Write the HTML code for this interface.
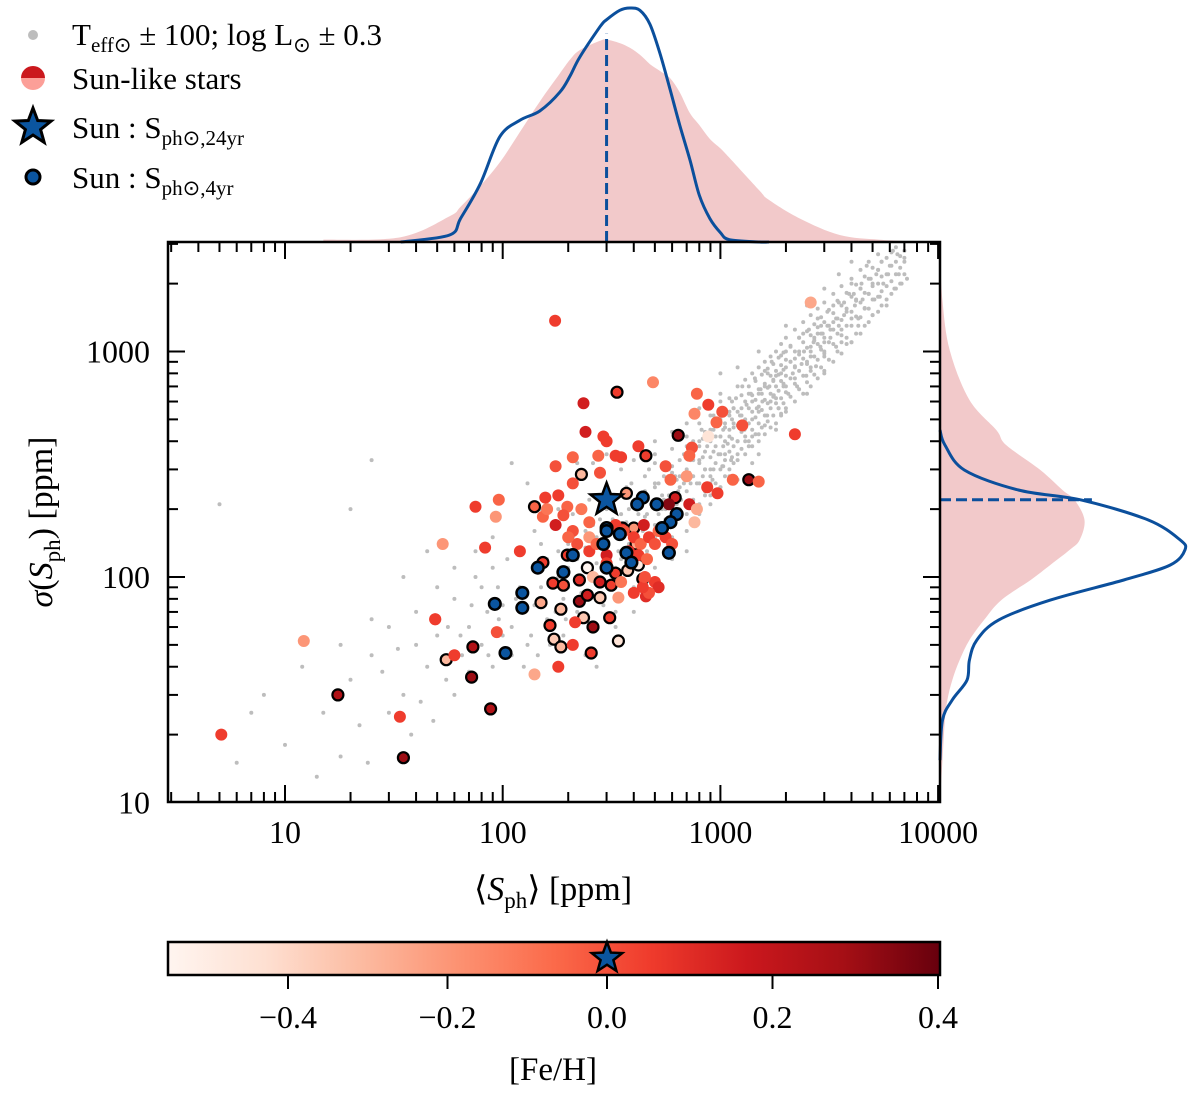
<!DOCTYPE html>
<html><head><meta charset="utf-8"><style>
html,body{margin:0;padding:0;background:#fff;}
svg{display:block;font-family:"Liberation Serif",serif;}
</style></head><body>
<svg id="chart" width="1200" height="1099" viewBox="0 0 1200 1099" xmlns="http://www.w3.org/2000/svg">
<defs>
<clipPath id="clipMain"><rect x="168" y="242" width="772" height="560"/></clipPath>
<linearGradient id="redsGrad" x1="0" x2="1" y1="0" y2="0">
<stop offset="0" stop-color="#fff5f0"/><stop offset="0.125" stop-color="#fee0d2"/><stop offset="0.25" stop-color="#fcbba1"/><stop offset="0.375" stop-color="#fc9272"/><stop offset="0.5" stop-color="#fb6a4a"/><stop offset="0.625" stop-color="#ef3b2c"/><stop offset="0.75" stop-color="#cb181d"/><stop offset="0.875" stop-color="#a50f15"/><stop offset="1" stop-color="#67000d"/>
</linearGradient>
</defs>
<g id="topMarg"></g>
<g id="rightMarg"></g>
<g id="grayPts" clip-path="url(#clipMain)"></g>
<g id="colPts" clip-path="url(#clipMain)"></g>
<g id="axes"></g>
<g id="cbar"></g>
<g id="legend">
<circle cx="33" cy="35" r="5" fill="#bdbdbd"/>
<text x="72" y="45" font-size="31">T<tspan font-size="21" dy="7">eff⊙</tspan><tspan dy="-7"> ± 100; log L</tspan><tspan font-size="21" dy="7">⊙</tspan><tspan dy="-7"> ± 0.3</tspan></text>
<path d="M21,78 A12,12 0 0 1 45,78 Z" fill="#cb181d"/>
<path d="M21,78 A12,12 0 0 0 45,78 Z" fill="#fc9f98"/>
<text x="72" y="89" font-size="31">Sun-like stars</text>
<g id="legStar"></g>
<text x="72" y="138" font-size="31">Sun :  S<tspan font-size="21" dy="7">ph⊙,24yr</tspan></text>
<circle cx="33" cy="177" r="7" fill="#0b559f" stroke="#000" stroke-width="3"/>
<text x="72" y="188" font-size="31">Sun :  S<tspan font-size="21" dy="7">ph⊙,4yr</tspan></text>
</g>
</svg>
<script>
// ---------- data ----------
const grayX=[520,560,600,640,680,700,720,750,780,800,820,850,870,900,920,950,980,1000,1020,1050,1080,1100,1120,1150,1180,1200,1230,1260,1290,1320,1350,1380,1400,1440,1470,1500,1530,1560,1600,1640,1680,1720,1760,1800,1850,1900,1950,2000,2050,2100,2150,2200,2250,2300,2360,2420,2480,2550,2600,2680,2750,2800,2880,2950,3000,3100,3200,3300,3400,3500,3600,3700,3800,3900,4000,4150,4300,4450,4600,4800,5000,5200,5400,5600,5800,6000,6300,6600,7000,7200,
900,1100,1300,1700,2000,2500,3000,3500,4200,5000,1500,1900,2300,2700,3200,3800,4500,6500,5500,800,1000,1250,1600,2100,2600,3100,3700,4400,5300,6200,950,1150,1400,1750,2200,2800,3400,4100,4900,5900,700,850,1050,1350,1650,2000,2400,2900,3300,4000,4700,600,650,750,900,1200,1500,1800,2200,2600,3000,3600,4300,5100,6800,
110,120,130,140,150,160,170,180,190,200,210,220,230,240,250,260,270,280,290,300,310,320,330,340,350,360,370,380,390,400,420,440,450,460,480,500,520,540,560,580,600,620,650,680,
120,150,180,200,220,250,270,300,320,350,380,400,430,460,500,540,580,620,660,200,240,280,330,370,420,470,520,160,190,230,260,290,330,150,210,250,300,400,450,140,180,260,350,
8,12,15,18,20,25,22,30,35,40,45,50,55,60,65,70,75,80,85,90,95,100,105,110,60,70,80,90,100,50,40,30,25,35,45,20,6,5,7,10,14,18,24,28,33,38,42,48,56,64,72,86,96,115,125,135,145,165,175,195,25,110,130,90,75,60,150,170,330,400,500,600,700,800,900,1000,1200,1400,1500,1800,800,700,600,500,1000,1200,1500,2000,2500,3000,3500,4000,4000,3000,2500,2000,1600,1400,1100,900,400,500,300,220,350,270,240,700,850,1300,1900];
const grayY=[260,200,310,240,350,210,290,400,260,330,450,300,380,520,270,420,350,600,310,460,390,540,330,480,620,400,520,700,450,580,380,650,500,760,560,430,680,600,820,520,700,900,640,780,560,960,720,850,650,1050,800,930,700,1150,880,1000,780,1250,950,1100,860,1400,1050,1200,950,1500,1150,1350,1050,1650,1250,1450,1150,1800,1400,1600,1300,2000,1550,1800,1450,2200,1750,2000,1600,2400,1900,2200,2600,2100,
300,450,480,600,700,900,1100,1300,1700,2000,650,800,1000,1150,1250,1500,1700,2700,2500,400,420,560,700,900,1050,1300,1650,1900,2300,2800,500,560,600,750,850,1200,1400,1800,2100,2200,380,420,350,650,800,1000,1200,1300,1600,2000,2400,370,280,330,450,350,540,620,760,820,1000,1100,1400,1700,2000,
60,90,50,75,110,65,95,130,80,110,150,70,100,135,85,170,115,95,140,200,120,90,160,130,230,105,175,140,260,120,190,160,280,130,210,170,140,230,180,300,150,210,190,260,
70,90,100,140,120,110,150,130,180,150,200,170,220,190,250,200,230,280,220,90,160,180,110,250,150,300,190,120,55,85,60,75,70,140,190,220,240,330,350,160,200,320,300,
30,40,25,50,35,45,22,60,30,70,40,55,35,80,45,60,100,50,70,40,90,55,120,45,30,38,90,110,75,90,50,25,65,100,130,200,15,210,25,18,13,16,15,38,48,20,28,23,60,55,75,45,65,80,40,55,45,50,70,65,330,320,260,150,130,110,200,170,60,90,110,120,160,190,210,250,270,320,350,450,560,480,440,400,800,850,1000,1300,1600,1900,2200,2500,1100,800,650,560,470,420,280,260,70,350,350,320,50,40,45,130,230,400,530];

// dense gray band: each column x with its list of y values
const denseX=[350,400,450,500,550,600,650,700,750,800,850,900,950,1000,1050,1100,1150,1200,1300,1400,1500,1600,1700,1800,1900,2000,2200,2400,2600,2800,3000,3300,3600,4000,4400,4800,5300,5800,6400,7000,
630,730,830,930,1030,1130,1250,1350,1450,1550,1650,1750,1850,1950,2100,2300,2500,2700,2900,3150,3450,3800,4200,4600,5000,5500,6100,6700];
const denseY=[[120,150,190],[130,170,210],[140,185,240],[150,200,260,320],[170,220,280],[180,230,290],[200,250,330],[190,240,300,420],[220,280,350],[210,260,320,380,480],[240,300,360,440],[230,280,340,400,560],[260,320,380,470],[250,300,350,420,500,650],[280,330,400,480],[300,360,420,520,620],[320,380,460,560],[330,400,470,540,700],[350,420,500,600,750],[380,450,540,640,800],[400,480,570,680,850],[430,520,610,720,900],[460,560,650,780,950],[480,590,700,820,1000],[520,620,740,870,1080],[540,660,780,920,1150],[600,720,860,1000,1250],[650,780,930,1100,1350],[700,850,1000,1180,1450],[760,920,1080,1280,1550],[820,980,1150,1350,1650],[900,1080,1250,1480,1800],[980,1180,1380,1600,1950],[1100,1300,1500,1750,2100],[1200,1420,1650,1900,2300],[1350,1550,1800,2100,2500],[1500,1750,2000,2300,2700],[1700,1950,2200,2600],[1900,2200,2500,2900],[2200,2500,2800],
[210,270],[260,330,390],[280,340,410],[300,360,450,520],[310,380,450,560],[340,410,500,600],[370,440,520,640],[400,480,560,700],[430,510,610,740],[460,550,650,790],[490,590,690,840],[520,630,740,880],[560,670,790,940],[590,700,830,990],[630,760,900,1060],[680,820,970,1150],[730,880,1040,1230],[790,950,1120,1320],[850,1020,1200,1420],[920,1100,1300,1530],[1000,1200,1400,1680],[1080,1300,1550,1820],[1200,1430,1680,1980],[1300,1560,1820,2150],[1450,1700,1950,2350],[1600,1850,2150,2500],[1800,2050,2400,2750],[2000,2350,2650]];

// sun-like stars
const starX=[5.1,12.2,17.5,33.7,35,48.9,335,490,780,880,1020,760,960,1260,240,640,880,300,420,455,740,720,330,275,210,350,560,175,230,700,590,1140,970,870,370,620,580,720,780,760,75,96,93,140,157,198,153,175,190,250,355,400,445,210,250,300,410,198,153,245,420,260,330,375,170,190,225,280,315,440,150,225,245,280,340,455,185,165,235,260,310,215,49,73,55,172,185,255,340,210,180,72,140,53,83,120,174,2600,2200,1350,1500,88,60,94,235,290,280,
330,360,400,430,470,500,520,560,600,380,420,460,500,520,470,440,250,270,220,200,300,350,400,450,160,180,210,230];
const starY=[20,52,30,24,15.8,65,660,730,650,580,540,530,485,470,440,425,420,400,380,345,375,345,345,345,340,340,310,310,285,280,270,270,235,250,235,225,210,210,200,175,205,220,185,205,225,205,185,170,188,175,165,165,170,160,150,125,140,125,116,110,113,100,104,107,94,92,97,95,92,98,77,78,83,81,81,82,72,61,66,60,66,63,65,49,43,53,49,46,52,50,40,36,37,140,135,130,1370,1650,430,270,265,26,45,57,590,420,290,
170,160,150,140,150,140,160,150,140,130,125,120,95,90,85,90,130,140,140,150,115,95,85,100,200,230,260,200];
const starFeh=[0.05,-0.2,0.25,0.05,0.3,0,0.05,-0.15,-0.05,0.05,0,-0.15,-0.05,0,0.15,0.3,-0.45,0.05,0.05,0.05,0,-0.05,0.05,-0.05,-0.05,0.05,0,0,-0.3,-0.2,-0.05,-0.05,0.05,0.05,-0.2,0.15,0.35,0.15,-0.25,-0.3,0.05,-0.05,-0.2,-0.05,0.05,-0.05,-0.05,0.15,0,-0.05,0.1,-0.2,0.15,0,-0.2,0.15,-0.25,0.05,0.05,-0.55,-0.5,-0.3,0.05,-0.35,0.05,0,0.1,0.15,0.05,0,-0.25,0.3,0.15,-0.35,-0.2,0.1,-0.3,0.05,-0.35,0.3,0.05,0.05,0.05,0.25,-0.3,-0.35,-0.3,0.05,-0.45,0.05,0.05,0.3,-0.25,-0.2,0.05,0.05,0.05,-0.25,0.05,0.3,-0.05,0.25,0.05,0,0.15,0.05,0,
0.05,0,0.05,-0.05,0.05,0,-0.05,0.05,0,0.1,0.05,-0.05,0.05,0.1,0,0.05,0.05,-0.05,0,-0.05,0.05,-0.1,0.05,0,-0.1,0.05,0,-0.1];
const starEdge=[0,0,1,0,1,0,1,0,0,0,0,0,0,0,0,1,0,0,0,1,0,0,0,0,0,0,0,0,1,0,0,0,0,0,1,1,0,0,0,0,0,0,0,1,0,0,0,0,0,0,1,1,0,0,0,0,1,1,1,1,1,0,1,1,1,1,1,1,1,1,1,1,1,1,0,0,1,1,1,1,1,0,0,1,1,1,1,1,1,0,0,1,0,0,0,0,0,0,0,1,0,1,0,0,0,0,0,
0,0,0,0,0,0,0,0,0,0,0,0,0,0,0,0,0,0,0,0,0,0,0,0,0,0,0,0];

const sunX=[440,415,510,630,590,540,300,300,345,290,370,390,580,210,145,190,300,123,92,123,103];
const sunY=[225,210,210,190,175,165,165,160,155,140,128,116,128,125,110,105,110,85,76,73,46];
const sun24X=300, sun24Y=220, sunFeh=0;

const topXs=[15,34,57,64,79,97,120,148,183,204,226,280,300,345,384,427,475,530,588,650,725,800,895,1000,1100,1510,1670,2320,3530,5400,9000];
const topPink=[0.01,0.02,0.11,0.15,0.24,0.34,0.47,0.6,0.72,0.78,0.82,0.86,0.865,0.85,0.83,0.8,0.76,0.73,0.7,0.64,0.55,0.5,0.44,0.4,0.36,0.22,0.18,0.1,0.03,0.01,0];
const topBlue=[0,0,0.03,0.1,0.25,0.45,0.52,0.56,0.64,0.71,0.79,0.92,0.95,0.99,1.0,0.99,0.93,0.8,0.65,0.5,0.35,0.2,0.1,0.04,0.01,0,0,0,0,0,0];
const rightYs=[10,15.4,23.2,28.5,34.9,42.8,52.5,64.5,79,97,113,132,146,179,219,243,298,385,448,610,1010,1680,2800];
const rightPink=[0,0.01,0.02,0.03,0.05,0.08,0.12,0.18,0.25,0.37,0.45,0.53,0.57,0.59,0.55,0.5,0.41,0.27,0.23,0.12,0.04,0.01,0];
const rightBlue=[0,0,0.01,0.05,0.11,0.12,0.15,0.24,0.45,0.75,0.94,1.0,0.98,0.85,0.58,0.32,0.1,0.02,0,0,0,0,0];

const xTicks=[10,100,1000,10000];
const xTickLabels=["10","100","1000","10000"];
const yTicks=[10,100,1000];
const yTickLabels=["10","100","1000"];
const cbTicks=[-0.4,-0.2,0,0.2,0.4];
const cbTickLabels=["\u22120.4","\u22120.2","0.0","0.2","0.4"];

// ---------- scales ----------
const NS="http://www.w3.org/2000/svg";
const L=168,R=940,T=242,B=802;
function xs(v){return 285+(Math.log10(v)-1)*217.7;}
function ys(v){return 577-(Math.log10(v)-2)*225.5;}
function cbx(f){return f<0?607+f/0.4*319:607+f/0.4*331;}
const reds=["#fff5f0","#fee0d2","#fcbba1","#fc9272","#fb6a4a","#ef3b2c","#cb181d","#a50f15","#67000d"];
function hex(c){return [1,3,5].map(i=>parseInt(c.substr(i,2),16));}
function fehColor(f){let t=(cbx(f)-L)/(R-L);t=Math.max(0,Math.min(1,t));const p=t*8,i=Math.min(7,Math.floor(p)),u=p-i;const a=hex(reds[i]),b=hex(reds[i+1]);return "rgb("+a.map((v,k)=>Math.round(v+(b[k]-v)*u)).join(",")+")";}
function mk(tag,attrs,parent){const e=document.createElementNS(NS,tag);for(const k in attrs)e.setAttribute(k,attrs[k]);parent.appendChild(e);return e;}
function starPath(cx,cy,r){let d="";for(let i=0;i<10;i++){const rr=i%2?r*0.42:r;const a=-Math.PI/2+i*Math.PI/5;d+=(i?"L":"M")+(cx+rr*Math.cos(a)).toFixed(1)+","+(cy+rr*Math.sin(a)).toFixed(1);}return d+"Z";}
function smooth(pts){let d="M"+pts[0][0]+","+pts[0][1];for(let i=0;i<pts.length-1;i++){const p0=pts[Math.max(0,i-1)],p1=pts[i],p2=pts[i+1],p3=pts[Math.min(pts.length-1,i+2)];const c1=[p1[0]+(p2[0]-p0[0])/6,p1[1]+(p2[1]-p0[1])/6],c2=[p2[0]-(p3[0]-p1[0])/6,p2[1]-(p3[1]-p1[1])/6];d+="C"+c1[0].toFixed(1)+","+c1[1].toFixed(1)+" "+c2[0].toFixed(1)+","+c2[1].toFixed(1)+" "+p2[0].toFixed(1)+","+p2[1].toFixed(1);}return d;}
function tspanText(parent,attrs,parts){const t=mk("text",attrs,parent);parts.forEach(p=>{const s=mk("tspan",p.a||{},t);s.textContent=p.t;});return t;}

// ---------- marginals ----------
const tm=document.getElementById("topMarg");
const TH=234;
let tp=topXs.map((x,i)=>[xs(x),T-topPink[i]*TH]);
let e=mk("path",{d:smooth(tp)+"L"+xs(topXs[topXs.length-1])+","+T+"L"+xs(topXs[0])+","+T+"Z",fill:"#f2c9ca"},tm);


let tb=topXs.map((x,i)=>[xs(x),T-topBlue[i]*TH]);
e=mk("path",{d:smooth(tb.slice(1,27)),fill:"none",stroke:"#0b4f9c","stroke-width":3},tm);


e=mk("line",{x1:xs(sun24X),x2:xs(sun24X),y1:T,y2:T-0.89*TH,stroke:"#0b4f9c","stroke-width":3,"stroke-dasharray":"11,5"},tm);



const rm=document.getElementById("rightMarg");
const RW=245;
let rp=rightYs.map((y,i)=>[R+rightPink[i]*RW,ys(y)]);
e=mk("path",{d:smooth(rp)+"L"+R+","+ys(rightYs[rightYs.length-1])+"L"+R+","+ys(rightYs[0])+"Z",fill:"#f2c9ca"},rm);


let rb=rightYs.map((y,i)=>[R+rightBlue[i]*RW,ys(y)]);
e=mk("path",{d:smooth(rb.slice(1,19)),fill:"none",stroke:"#0b4f9c","stroke-width":3},rm);


e=mk("line",{x1:R,x2:R+0.62*RW,y1:ys(sun24Y),y2:ys(sun24Y),stroke:"#0b4f9c","stroke-width":3,"stroke-dasharray":"11,5"},rm);



// ---------- points ----------
const gp=document.getElementById("grayPts");
for(let i=0;i<grayX.length;i++){
 const c=mk("circle",{cx:xs(grayX[i]).toFixed(1),cy:ys(grayY[i]).toFixed(1),r:2,fill:"#bdbdbd"},gp);
 
 
}
for(let i=0;i<denseX.length;i++){
 for(let j=0;j<denseY[i].length;j++){
  const c=mk("circle",{cx:xs(denseX[i]).toFixed(1),cy:ys(denseY[i][j]).toFixed(1),r:2,fill:"#bdbdbd"},gp);
  
  
 }
}
const cp=document.getElementById("colPts");
for(let i=0;i<starX.length;i++){
 const c=mk("circle",{cx:xs(starX[i]).toFixed(1),cy:ys(starY[i]).toFixed(1),r:starEdge[i]?5.5:6,fill:fehColor(starFeh[i]),stroke:starEdge[i]?"#000":"none","stroke-width":2.2},cp);
 
 
}
for(let i=0;i<sunX.length;i++){
 const c=mk("circle",{cx:xs(sunX[i]).toFixed(1),cy:ys(sunY[i]).toFixed(1),r:5.8,fill:"#0b559f",stroke:"#000","stroke-width":2.5},cp);
 
 
}
e=mk("path",{d:starPath(xs(sun24X),ys(sun24Y),17),fill:"#0b559f",stroke:"#000","stroke-width":2.5},cp);



// ---------- axes ----------
const ax=document.getElementById("axes");
function tick(x1,y1,x2,y2,nm){const t=mk("line",{x1:x1,y1:y1,x2:x2,y2:y2,stroke:"#000","stroke-width":2},ax);}
for(let d=0;d<=4;d++){for(let m=1;m<10;m++){const v=m*Math.pow(10,d);const px=xs(v);if(px<L+1||px>R-1)continue;const len=m===1?17:10;tick(px,B,px,B-len,'x-tick');tick(px,T,px,T+len,'x-tick-top');}}
for(let d=1;d<=3;d++){for(let m=1;m<10;m++){const v=m*Math.pow(10,d);const py=ys(v);if(py<T+1||py>B-1)continue;const len=m===1?17:10;tick(L,py,L+len,py,'y-tick');tick(R,py,R-len,py,'y-tick-right');}}
e=mk("rect",{x:L,y:T,width:R-L,height:B-T,fill:"none",stroke:"#000","stroke-width":2.5},ax);


xTicks.forEach((v,i)=>{const t=mk("text",{x:xs(v),y:843,"font-size":32,"text-anchor":"middle"},ax);t.textContent=xTickLabels[i];});
yTicks.forEach((v,i)=>{const t=mk("text",{x:150,y:ys(v)+11,"font-size":32,"text-anchor":"end"},ax);t.textContent=yTickLabels[i];});
e=tspanText(ax,{x:553,y:900,"font-size":34,"text-anchor":"middle"},[{t:"⟨"},{t:"S",a:{"font-style":"italic"}},{t:"ph",a:{"font-size":23,dy:8}},{t:"⟩ [ppm]",a:{dy:-8}}]);


e=tspanText(ax,{x:0,y:0,"font-size":34,"text-anchor":"middle",transform:"translate(52,522) rotate(-90)"},[{t:"σ",a:{"font-style":"italic"}},{t:"("},{t:"S",a:{"font-style":"italic"}},{t:"ph",a:{"font-size":23,dy:8}},{t:") [ppm]",a:{dy:-8}}]);



// ---------- colorbar ----------
const cb=document.getElementById("cbar");
e=mk("rect",{x:L,y:942,width:R-L,height:33,fill:"url(#redsGrad)",stroke:"#000","stroke-width":2.5},cb);


cbTicks.forEach((v,i)=>{const px=cbx(v);const t=mk("line",{x1:px,x2:px,y1:975,y2:989,stroke:"#000","stroke-width":2},cb);
 const l=mk("text",{x:px,y:1028,"font-size":32,"text-anchor":"middle"},cb);l.textContent=cbTickLabels[i];});
e=mk("path",{d:starPath(cbx(sunFeh),958,16),fill:"#0b559f",stroke:"#000","stroke-width":2.5},cb);


e=mk("text",{x:553,y:1080,"font-size":33,"text-anchor":"middle"},cb);
e.textContent="[Fe/H]";



e=mk("path",{d:starPath(33,127,19),fill:"#0b559f",stroke:"#000","stroke-width":3},document.getElementById("legStar"));


</script>
</body></html>
